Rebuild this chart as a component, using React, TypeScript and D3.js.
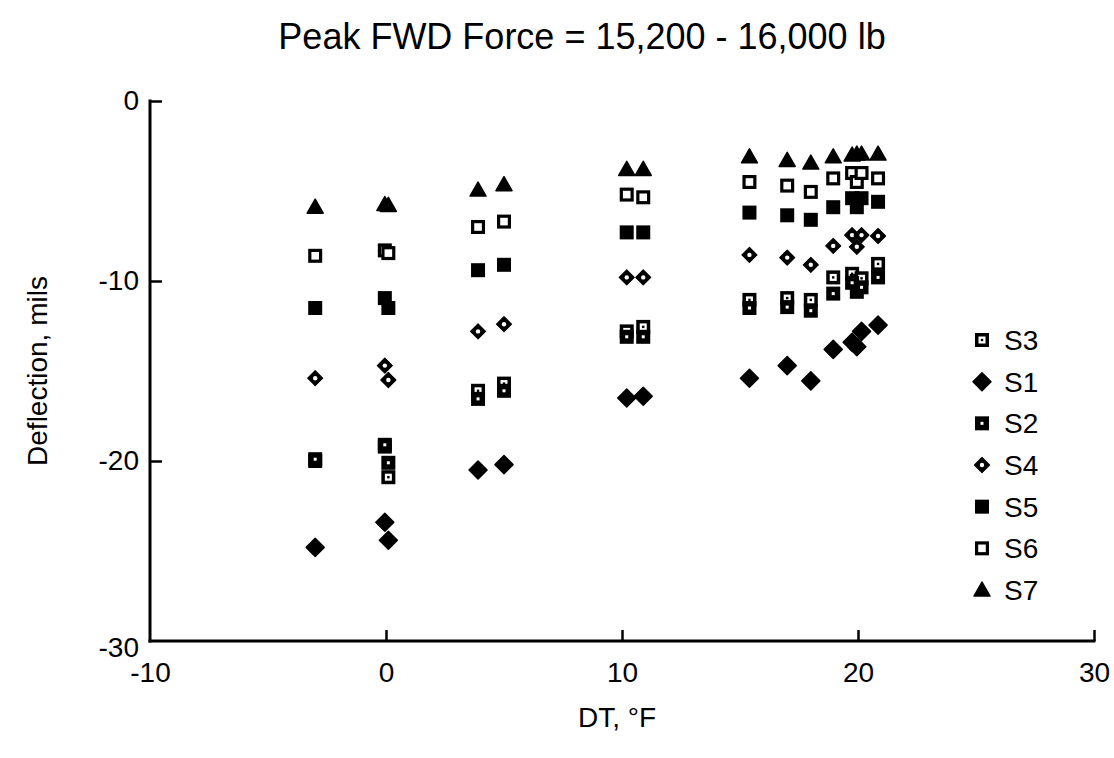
import React, { useEffect, useRef } from "react";
import * as d3 from "d3";

const W = 1114;
const H = 758;

const titleText = "Peak FWD Force = 15,200 - 16,000 lb";
const xLabel = "DT, °F";
const yLabel = "Deflection, mils";
const xTicks = [-10, 0, 10, 20, 30];
const yTicks = [0, -10, -20, -30];

// temperature differential of each test
const dtValues = [-3.0, -0.05, 0.1, 3.9, 5.0, 10.2, 10.9, 15.4, 17.0, 18.0, 18.95, 19.75, 19.95, 20.15, 20.85];

const s3 = [-20.0, -19.2, -20.9, -16.1, -15.7, -12.8, -12.55, -11.05, -10.95, -11.05, -9.8, -9.6, -10.0, -9.85, -9.05];
const s1 = [-24.8, -23.4, -24.4, -20.5, -20.2, -16.5, -16.4, -15.4, -14.7, -15.55, -13.8, -13.4, -13.65, -12.8, -12.45];
const s2 = [-19.9, -19.1, -20.1, -16.55, -16.1, -13.1, -13.1, -11.5, -11.45, -11.65, -10.7, -10.1, -10.6, -10.35, -9.8];
const s4 = [-15.4, -14.7, -15.5, -12.8, -12.4, -9.8, -9.8, -8.55, -8.7, -9.1, -8.05, -7.45, -8.1, -7.45, -7.5];
const s5 = [-11.5, -10.95, -11.5, -9.4, -9.1, -7.3, -7.3, -6.2, -6.35, -6.6, -5.9, -5.4, -5.9, -5.4, -5.6];
const s6 = [-8.6, -8.3, -8.45, -7.0, -6.7, -5.2, -5.35, -4.5, -4.7, -5.05, -4.3, -4.0, -4.5, -4.0, -4.3];
const s7 = [-5.9, -5.75, -5.8, -4.95, -4.65, -3.8, -3.8, -3.1, -3.3, -3.45, -3.1, -3.0, -2.95, -2.95, -2.95];

const seriesNames = ["S3", "S1", "S2", "S4", "S5", "S6", "S7"];
const seriesValues = [s3, s1, s2, s4, s5, s6, s7];
const seriesMarkers = ["sqSq", "diamond", "sqDot", "diamondDot", "square", "openSquare", "triangle"];

const FONT = "'Liberation Sans', Arial, Helvetica, sans-serif";

function Marker({ kind, cx, cy }: { kind: string; cx: number; cy: number }) {
  const s = 14;
  const h = s / 2;
  switch (kind) {
    case "square":
      return <rect x={cx - h} y={cy - h} width={s} height={s} fill="#000" />;
    case "openSquare":
      return <rect x={cx - h + 1.6} y={cy - h + 1.6} width={s - 3.2} height={s - 3.2} fill="#fff" stroke="#000" strokeWidth={3.2} />;
    case "sqDot":
      return (
        <g>
          <rect x={cx - h} y={cy - h} width={s} height={s} fill="#000" />
          <rect x={cx - 1.5} y={cy - 1.5} width={3} height={3} fill="#fff" />
        </g>
      );
    case "sqSq":
      return (
        <g>
          <rect x={cx - h} y={cy - h} width={s} height={s} fill="#000" />
          <rect x={cx - 3.5} y={cy - 3.5} width={7} height={7} fill="#fff" />
          <rect x={cx - 1.2} y={cy - 1.2} width={2.4} height={2.4} fill="#000" />
        </g>
      );
    case "diamond": {
      const r = 9;
      return <path d={`M${cx},${cy - r}L${cx + r},${cy}L${cx},${cy + r}L${cx - r},${cy}Z`} fill="#000" strokeLinejoin="round" stroke="#000" strokeWidth={1.5} />;
    }
    case "diamondDot": {
      const r = 7.5;
      return (
        <g>
          <path d={`M${cx},${cy - r}L${cx + r},${cy}L${cx},${cy + r}L${cx - r},${cy}Z`} fill="#000" stroke="#000" strokeWidth={1.2} strokeLinejoin="round" />
          <circle cx={cx} cy={cy} r={2.2} fill="#fff" />
        </g>
      );
    }
    case "triangle": {
      return <path d={`M${cx},${cy - 8}L${cx + 8},${cy + 6}L${cx - 8},${cy + 6}Z`} fill="#000" stroke="#000" strokeWidth={1.5} strokeLinejoin="round" />;
    }
    default:
      return null;
  }
}

export default function App() {
  const xAxisRef = useRef<SVGGElement>(null);
  const yAxisRef = useRef<SVGGElement>(null);

  const x = d3.scaleLinear().domain([-10, 30]).range([150, 1094]);
  const y = d3.scaleLinear().domain([-30, 0]).range([641, 101]);

  useEffect(() => {
    const gx = d3.select(xAxisRef.current!);
    gx.call(
      d3.axisBottom(x).tickValues(xTicks).tickFormat((d: any) => String(d)).tickSizeInner(-11).tickSizeOuter(0).tickPadding(21)
    );
    gx.select(".domain").attr("stroke-width", 3).attr("d", `M${x(-10) - 1.5},0H${x(30) + 1.5}`);
    gx.selectAll(".tick line").attr("stroke-width", 2.5);
    gx.selectAll(".tick text").attr("font-size", 28).attr("font-family", FONT).attr("fill", "#000");
    gx.selectAll(".tick").filter((d: any) => d === -10).select("line").remove();

    const gy = d3.select(yAxisRef.current!);
    gy.call(
      d3.axisLeft(y).tickValues(yTicks).tickFormat((d: any) => String(d)).tickSizeInner(-12).tickSizeOuter(0).tickPadding(11)
    );
    gy.select(".domain").attr("stroke-width", 3).attr("d", `M0,${y(0) - 1.5}V${y(-30) + 1.5}`);
    gy.selectAll(".tick line").attr("stroke-width", 2.5);
    gy.selectAll(".tick text").attr("font-size", 28).attr("font-family", FONT).attr("fill", "#000");
    gy.selectAll(".tick").filter((d: any) => d === -30).select("line").remove();
    gy.selectAll(".tick").filter((d: any) => d === -30).select("text").attr("dy", "0.55em");
  }, []);

  const legendY = d3.scaleLinear().domain([0, 6]).range([340, 590]);

  return (
    <svg width={W} height={H} style={{ position: "absolute", left: 0, top: 0, background: "#fff" }}>
      <rect x={0} y={0} width={W} height={H} fill="#fff" />
      <text x={582} y={49} textAnchor="middle" fontFamily={FONT} fontSize={36} fill="#000">
        {titleText}
      </text>
      <g ref={xAxisRef} transform={`translate(0,${y(-30)})`} />
      <g ref={yAxisRef} transform={`translate(${x(-10)},0)`} />
      <text x={617} y={727} textAnchor="middle" fontFamily={FONT} fontSize={28} fill="#000">
        {xLabel}
      </text>
      <text transform={`translate(47,371) rotate(-90)`} textAnchor="middle" fontFamily={FONT} fontSize={28} fill="#000">
        {yLabel}
      </text>
      {seriesValues.map((vals, si) => (
        <g key={seriesNames[si]}>
          {vals.map((v, i) => (
            <Marker key={i} kind={seriesMarkers[si]} cx={x(dtValues[i])} cy={y(v)} />
          ))}
        </g>
      ))}
      {seriesNames.map((name, i) => (
        <g key={"lg" + name}>
          <Marker kind={seriesMarkers[i]} cx={982} cy={legendY(i)} />
          <text x={1004} y={legendY(i) + 10} fontFamily={FONT} fontSize={28} fill="#000">
            {name}
          </text>
        </g>
      ))}
    </svg>
  );
}
